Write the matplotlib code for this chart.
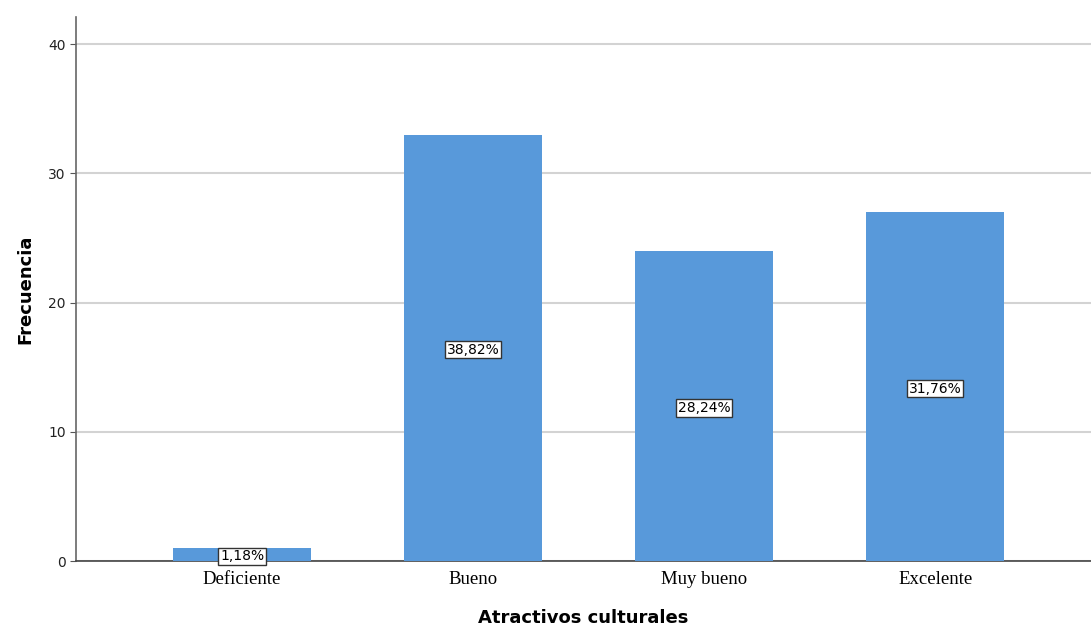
import matplotlib.pyplot as plt

# datos
categorias = ['Deficiente', 'Bueno', 'Muy bueno', 'Excelente']
frecuencias = [1, 33, 24, 27]
porcentajes = ['1,18%', '38,82%', '28,24%', '31,76%']
yticks = [0, 10, 20, 30, 40]

fig = plt.figure(figsize=(10.91, 6.31), dpi=100)
ax = fig.add_axes([0.0697, 0.1109, 0.9303, 0.8621])

x = range(len(categorias))
bars = ax.bar(x, frecuencias, width=0.6, color='#5899DA', zorder=3)

# etiquetas de porcentaje en la mitad de cada barra
for b, p in zip(bars, porcentajes):
    ax.text(b.get_x() + b.get_width() / 2, b.get_height() / 2 - 0.15, p,
            ha='center', va='center', fontsize=10, family='DejaVu Sans',
            zorder=4,
            bbox=dict(boxstyle='square,pad=0.12', fc='white', ec='#333333', lw=1))

ax.set_xlim(-0.719, 3.675)
ax.set_ylim(0, 42.1)
ax.set_xticks(list(x))
ax.set_xticklabels(categorias, family='Liberation Serif', fontsize=13.5)
ax.tick_params(axis='x', length=0, pad=7)
ax.set_yticks(yticks)
ax.tick_params(axis='y', labelsize=10, length=4, color='#555555', labelcolor='#222222')

ax.yaxis.grid(True, color='#D3D3D3', lw=1.5, zorder=0)
for s in ['top', 'right']:
    ax.spines[s].set_visible(False)
ax.spines['left'].set_color('#666666')
ax.spines['bottom'].set_color('#444444')
ax.spines['left'].set_linewidth(1.2)
ax.spines['bottom'].set_linewidth(1.2)

ax.set_xlabel('Atractivos culturales', fontsize=13, fontweight='bold', labelpad=15)
ax.set_ylabel('Frecuencia', fontsize=13, fontweight='bold', labelpad=10)

fig.savefig('out.png', dpi=100)
